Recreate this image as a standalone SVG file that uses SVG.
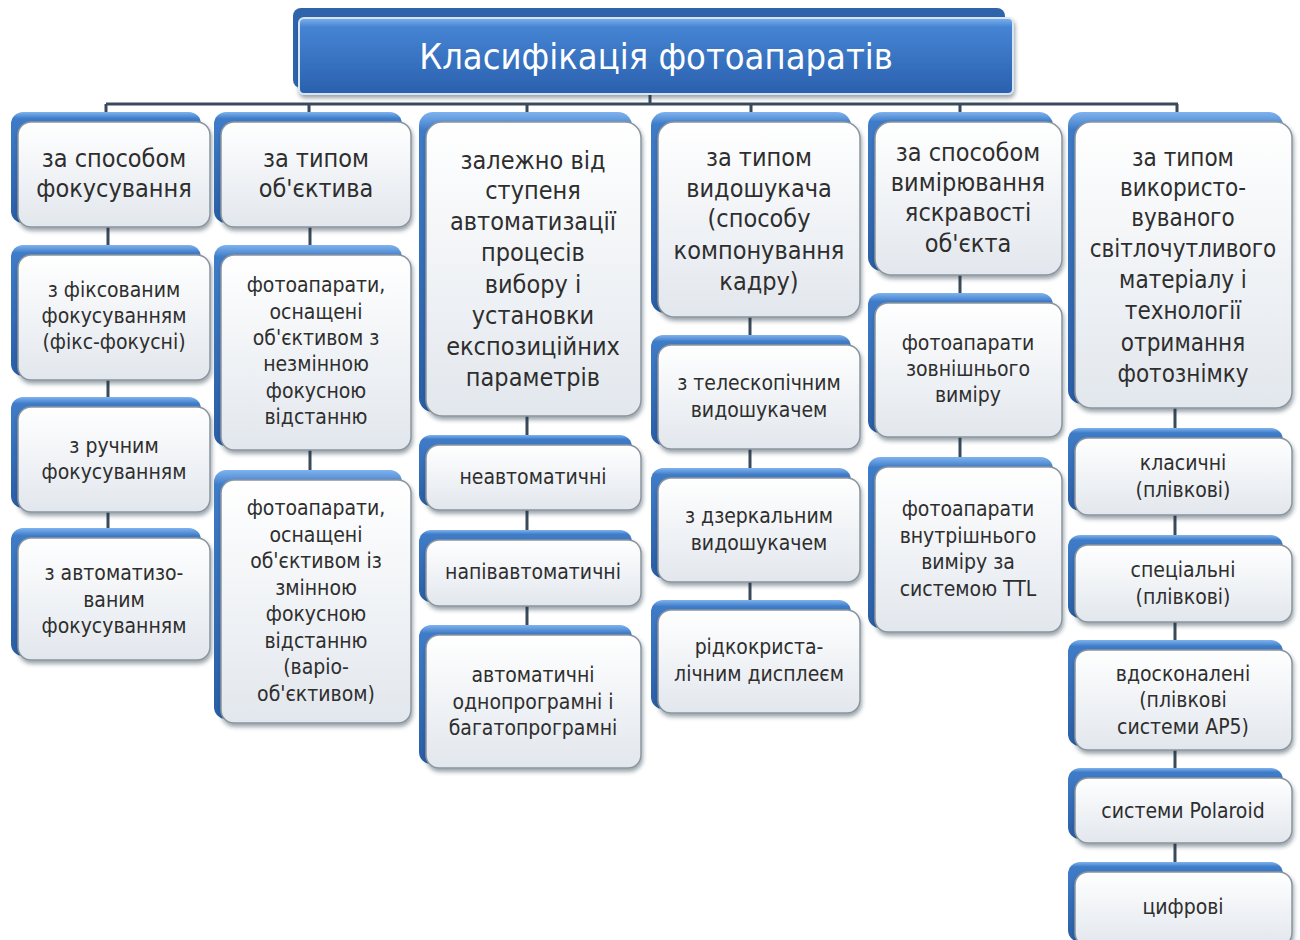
<svg xmlns="http://www.w3.org/2000/svg" width="1300" height="940" viewBox="0 0 1300 940">
<defs>
<linearGradient id="gBox" x1="0" y1="0" x2="0" y2="1"><stop offset="0" stop-color="#ffffff"/><stop offset="1" stop-color="#e2e7ed"/></linearGradient>
<linearGradient id="gPlate" x1="0" y1="0" x2="0" y2="1"><stop offset="0" stop-color="#7fb3ee"/><stop offset="0.06" stop-color="#3f7cc8"/><stop offset="1" stop-color="#2a5ea6"/></linearGradient>
<linearGradient id="gTitle" x1="0" y1="0" x2="0" y2="1"><stop offset="0" stop-color="#7db2ee"/><stop offset="0.12" stop-color="#4584d3"/><stop offset="1" stop-color="#2a60ae"/></linearGradient>
<filter id="sh" x="-10%" y="-10%" width="120%" height="130%"><feDropShadow dx="1" dy="3" stdDeviation="2" flood-color="#1c2a3a" flood-opacity="0.45"/></filter>
</defs>
<style>
.plate{fill:url(#gPlate)}
.box{fill:url(#gBox);stroke:#8a949f;stroke-width:1.5;filter:url(#sh)}
.t{font-family:"DejaVu Sans Condensed","DejaVu Sans",sans-serif;fill:#2e2e2e;text-anchor:middle}
.h{font-size:25px}
.h6{font-size:24px}
.c{font-size:21px}
.conn{stroke:#3b4a5b;stroke-width:3;fill:none}
</style>
<rect width="1300" height="940" fill="#ffffff"/>
<g id="connectors">
<path class="conn" d="M650 93V104M106 104H1178M106 104V114M309 104V114M527 104V114M751 104V114M960 104V114M1177 104V114"/>
<path class="conn" d="M108 227V247M108 380V399M108 512V530"/>
<path class="conn" d="M310 227V247M310 450V472"/>
<path class="conn" d="M527 416V437M527 510V532M527 606V627"/>
<path class="conn" d="M750 317V337M750 449V470M750 582V602"/>
<path class="conn" d="M960 275V295M960 437V459"/>
<path class="conn" d="M1175 408V430M1175 515V537M1175 622V642M1175 750V770M1175 843V864"/>
</g>
<g id="title">
<rect x="293" y="8" width="712" height="80" rx="8" fill="#2f64ad"/>
<rect x="299" y="18" width="714" height="76" rx="5" fill="url(#gTitle)" stroke="#d7e4f4" stroke-width="2" filter="url(#sh)"/>
<text class="t" x="656" y="69" font-size="36" style="fill:#ffffff">Класифікація фотоапаратів</text>
</g>
<g id="c1h"><rect class="plate" x="11" y="112" width="190" height="111" rx="12"/><rect class="box" x="18" y="122" width="192" height="105" rx="13"/>
<text class="t h"><tspan x="114" y="167">за способом</tspan><tspan x="114" y="197">фокусування</tspan></text></g>
<g id="c1a"><rect class="plate" x="11" y="245" width="190" height="131" rx="12"/><rect class="box" x="18" y="255" width="192" height="125" rx="13"/>
<text class="t c"><tspan x="114" y="297">з фіксованим</tspan><tspan x="114" y="323">фокусуванням</tspan><tspan x="114" y="349">(фікс-фокусні)</tspan></text></g>
<g id="c1b"><rect class="plate" x="11" y="397" width="190" height="111" rx="12"/><rect class="box" x="18" y="407" width="192" height="105" rx="13"/>
<text class="t c"><tspan x="114" y="453">з ручним</tspan><tspan x="114" y="479">фокусуванням</tspan></text></g>
<g id="c1c"><rect class="plate" x="11" y="528" width="190" height="128" rx="12"/><rect class="box" x="18" y="538" width="192" height="122" rx="13"/>
<text class="t c"><tspan x="114" y="580">з автоматизо-</tspan><tspan x="114" y="607">ваним</tspan><tspan x="114" y="633">фокусуванням</tspan></text></g>
<g id="c2h"><rect class="plate" x="214" y="112" width="188" height="111" rx="12"/><rect class="box" x="221" y="122" width="190" height="105" rx="13"/>
<text class="t h"><tspan x="316" y="167">за типом</tspan><tspan x="316" y="197">об'єктива</tspan></text></g>
<g id="c2a"><rect class="plate" x="214" y="245" width="188" height="201" rx="12"/><rect class="box" x="221" y="255" width="190" height="195" rx="13"/>
<text class="t c"><tspan x="316" y="292">фотоапарати,</tspan><tspan x="316" y="319">оснащені</tspan><tspan x="316" y="345">об'єктивом з</tspan><tspan x="316" y="371">незмінною</tspan><tspan x="316" y="398">фокусною</tspan><tspan x="316" y="424">відстанню</tspan></text></g>
<g id="c2b"><rect class="plate" x="214" y="470" width="188" height="249" rx="12"/><rect class="box" x="221" y="480" width="190" height="243" rx="13"/>
<text class="t c"><tspan x="316" y="515">фотоапарати,</tspan><tspan x="316" y="542">оснащені</tspan><tspan x="316" y="568">об'єктивом із</tspan><tspan x="316" y="595">змінною</tspan><tspan x="316" y="621">фокусною</tspan><tspan x="316" y="648">відстанню</tspan><tspan x="316" y="674">(варіо-</tspan><tspan x="316" y="701">об'єктивом)</tspan></text></g>
<g id="c3h"><rect class="plate" x="419" y="112" width="213" height="300" rx="14"/><rect class="box" x="426" y="122" width="215" height="294" rx="16"/>
<text class="t h"><tspan x="533" y="169">залежно від</tspan><tspan x="533" y="199">ступеня</tspan><tspan x="533" y="230">автоматизації</tspan><tspan x="533" y="261">процесів</tspan><tspan x="533" y="293">вибору і</tspan><tspan x="533" y="324">установки</tspan><tspan x="533" y="355">експозиційних</tspan><tspan x="533" y="386">параметрів</tspan></text></g>
<g id="c3a"><rect class="plate" x="419" y="435" width="213" height="71" rx="12"/><rect class="box" x="426" y="445" width="215" height="65" rx="13"/>
<text class="t c"><tspan x="533" y="484">неавтоматичні</tspan></text></g>
<g id="c3b"><rect class="plate" x="419" y="530" width="213" height="72" rx="12"/><rect class="box" x="426" y="540" width="215" height="66" rx="13"/>
<text class="t c"><tspan x="533" y="579">напівавтоматичні</tspan></text></g>
<g id="c3c"><rect class="plate" x="419" y="625" width="213" height="139" rx="12"/><rect class="box" x="426" y="635" width="215" height="133" rx="13"/>
<text class="t c"><tspan x="533" y="682">автоматичні</tspan><tspan x="533" y="709">однопрограмні і</tspan><tspan x="533" y="735">багатопрограмні</tspan></text></g>
<g id="c4h"><rect class="plate" x="651" y="112" width="200" height="201" rx="14"/><rect class="box" x="658" y="122" width="202" height="195" rx="16"/>
<text class="t h"><tspan x="759" y="166">за типом</tspan><tspan x="759" y="197">видошукача</tspan><tspan x="759" y="227">(способу</tspan><tspan x="759" y="259">компонування</tspan><tspan x="759" y="290">кадру)</tspan></text></g>
<g id="c4a"><rect class="plate" x="651" y="335" width="200" height="110" rx="12"/><rect class="box" x="658" y="345" width="202" height="104" rx="13"/>
<text class="t c"><tspan x="759" y="390">з телескопічним</tspan><tspan x="759" y="417">видошукачем</tspan></text></g>
<g id="c4b"><rect class="plate" x="651" y="468" width="200" height="110" rx="12"/><rect class="box" x="658" y="478" width="202" height="104" rx="13"/>
<text class="t c"><tspan x="759" y="523">з дзеркальним</tspan><tspan x="759" y="550">видошукачем</tspan></text></g>
<g id="c4c"><rect class="plate" x="651" y="600" width="200" height="109" rx="12"/><rect class="box" x="658" y="610" width="202" height="103" rx="13"/>
<text class="t c"><tspan x="759" y="654">рідкокриста-</tspan><tspan x="759" y="681">лічним дисплеєм</tspan></text></g>
<g id="c5h"><rect class="plate" x="868" y="112" width="185" height="159" rx="14"/><rect class="box" x="875" y="122" width="187" height="153" rx="16"/>
<text class="t h"><tspan x="968" y="161">за способом</tspan><tspan x="968" y="191">вимірювання</tspan><tspan x="968" y="221">яскравості</tspan><tspan x="968" y="252">об'єкта</tspan></text></g>
<g id="c5a"><rect class="plate" x="868" y="293" width="185" height="140" rx="12"/><rect class="box" x="875" y="303" width="187" height="134" rx="13"/>
<text class="t c"><tspan x="968" y="350">фотоапарати</tspan><tspan x="968" y="376">зовнішнього</tspan><tspan x="968" y="402">виміру</tspan></text></g>
<g id="c5b"><rect class="plate" x="868" y="457" width="185" height="171" rx="12"/><rect class="box" x="875" y="467" width="187" height="165" rx="13"/>
<text class="t c"><tspan x="968" y="516">фотоапарати</tspan><tspan x="968" y="543">внутрішнього</tspan><tspan x="968" y="569">виміру за</tspan><tspan x="968" y="596">системою TTL</tspan></text></g>
<g id="c6h"><rect class="plate" x="1068" y="112" width="215" height="292" rx="14"/><rect class="box" x="1075" y="122" width="217" height="286" rx="16"/>
<text class="t h6"><tspan x="1183" y="166">за типом</tspan><tspan x="1183" y="196">використо-</tspan><tspan x="1183" y="226">вуваного</tspan><tspan x="1183" y="257">світлочутливого</tspan><tspan x="1183" y="288">матеріалу і</tspan><tspan x="1183" y="319">технології</tspan><tspan x="1183" y="351">отримання</tspan><tspan x="1183" y="382">фотознімку</tspan></text></g>
<g id="c6a"><rect class="plate" x="1068" y="428" width="215" height="83" rx="12"/><rect class="box" x="1075" y="438" width="217" height="77" rx="13"/>
<text class="t c"><tspan x="1183" y="470">класичні</tspan><tspan x="1183" y="497">(плівкові)</tspan></text></g>
<g id="c6b"><rect class="plate" x="1068" y="535" width="215" height="83" rx="12"/><rect class="box" x="1075" y="545" width="217" height="77" rx="13"/>
<text class="t c"><tspan x="1183" y="577">спеціальні</tspan><tspan x="1183" y="604">(плівкові)</tspan></text></g>
<g id="c6c"><rect class="plate" x="1068" y="640" width="215" height="106" rx="12"/><rect class="box" x="1075" y="650" width="217" height="100" rx="13"/>
<text class="t c"><tspan x="1183" y="681">вдосконалені</tspan><tspan x="1183" y="707">(плівкові</tspan><tspan x="1183" y="734">системи AP5)</tspan></text></g>
<g id="c6d"><rect class="plate" x="1068" y="768" width="215" height="71" rx="12"/><rect class="box" x="1075" y="778" width="217" height="65" rx="13"/>
<text class="t c"><tspan x="1183" y="818">системи Polaroid</tspan></text></g>
<g id="c6e"><rect class="plate" x="1068" y="862" width="215" height="80" rx="12"/><rect class="box" x="1075" y="872" width="217" height="74" rx="13"/>
<text class="t c"><tspan x="1183" y="914">цифрові</tspan></text></g>
</svg>
